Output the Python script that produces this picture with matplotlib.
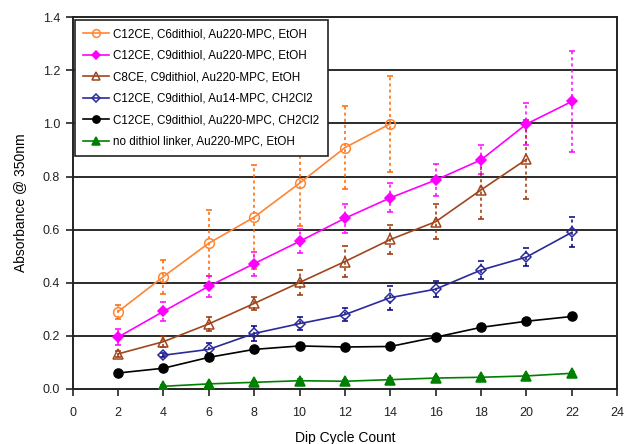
import matplotlib
matplotlib.use("Agg")
import matplotlib.pyplot as plt
from matplotlib.ticker import MultipleLocator, FormatStrFormatter

plt.rcParams['font.family'] = ['Liberation Sans', 'DejaVu Sans']

# dip cycles
X_ALL = [2, 4, 6, 8, 10, 12, 14, 16, 18, 20, 22]

# C12CE, C6dithiol, Au220-MPC, EtOH
c6_x = [2, 4, 6, 8, 10, 12, 14]
c6_y = [0.291, 0.423, 0.549, 0.647, 0.775, 0.909, 0.999]
c6_err = [0.026, 0.064, 0.125, 0.195, 0.16, 0.157, 0.18]

# C12CE, C9dithiol, Au220-MPC, EtOH
c9_x = X_ALL
c9_y = [0.195, 0.292, 0.387, 0.472, 0.556, 0.643, 0.72, 0.787, 0.863, 0.998, 1.083]
c9_err = [0.03, 0.035, 0.04, 0.045, 0.045, 0.055, 0.055, 0.06, 0.055, 0.08, 0.19]

# C8CE, C9dithiol, Au220-MPC, EtOH
c8_x = [2, 4, 6, 8, 10, 12, 14, 16, 18, 20]
c8_y = [0.132, 0.178, 0.245, 0.322, 0.401, 0.48, 0.563, 0.63, 0.75, 0.865]
c8_err = [0.01, 0.02, 0.025, 0.025, 0.047, 0.058, 0.055, 0.065, 0.11, 0.15]

# C12CE, C9dithiol, Au14-MPC, CH2Cl2
au14_x = [4, 6, 8, 10, 12, 14, 16, 18, 20, 22]
au14_y = [0.127, 0.149, 0.209, 0.246, 0.28, 0.344, 0.376, 0.448, 0.497, 0.59]
au14_err = [0.008, 0.025, 0.03, 0.025, 0.025, 0.045, 0.03, 0.035, 0.035, 0.057]

# C12CE, C9dithiol, Au220-MPC, CH2Cl2
ch_x = X_ALL
ch_y = [0.06, 0.078, 0.119, 0.149, 0.162, 0.158, 0.16, 0.195, 0.232, 0.255, 0.273]
ch_err = [0.005, 0.005, 0.006, 0.006, 0.006, 0.006, 0.006, 0.008, 0.008, 0.008, 0.01]

# no dithiol linker, Au220-MPC, EtOH
nd_x = [4, 6, 8, 10, 12, 14, 16, 18, 20, 22]
nd_y = [0.01, 0.019, 0.025, 0.031, 0.029, 0.035, 0.041, 0.044, 0.049, 0.059]
nd_err = [0.005, 0.005, 0.006, 0.006, 0.005, 0.005, 0.005, 0.004, 0.004, 0.004]

series = [
    (c6_x, c6_y, c6_err, "C12CE, C6dithiol, Au220-MPC, EtOH", '#FF8533', '#FF6600', 'o', 'none', 7),
    (c9_x, c9_y, c9_err, "C12CE, C9dithiol, Au220-MPC, EtOH", '#FF00FF', '#FF00FF', 'D', '#FF00FF', 5.5),
    (c8_x, c8_y, c8_err, "C8CE, C9dithiol, Au220-MPC, EtOH", '#A0461E', '#993300', '^', 'none', 7),
    (au14_x, au14_y, au14_err, "C12CE, C9dithiol, Au14-MPC, CH2Cl2", '#2A2A9A', '#000080', 'D', 'none', 5),
    (ch_x, ch_y, ch_err, "C12CE, C9dithiol, Au220-MPC, CH2Cl2", '#000000', '#000000', 'o', '#000000', 6.5),
    (nd_x, nd_y, nd_err, "no dithiol linker, Au220-MPC, EtOH", '#008000', '#008000', '^', '#008000', 6.5),
]

fig = plt.figure(figsize=(6.26, 4.44), dpi=100)
ax = fig.add_axes([0.116, 0.124, 0.870, 0.837])

for y in [0.2, 0.4, 0.6, 0.8, 1.0, 1.2]:
    ax.axhline(y, color='#1a1a1a', lw=1.3, zorder=1)

handles = []
for xs, ys, errs, label, lc, ec, mk, mfc, ms in series:
    line, caps, bars = ax.errorbar(xs, ys, yerr=errs, color=lc, ecolor=ec, elinewidth=1.1,
                                   capsize=2.5, capthick=1.1, marker=mk, markersize=ms,
                                   markerfacecolor=mfc, markeredgecolor=lc, markeredgewidth=1.1,
                                   lw=1.2, zorder=3)
    bars[0].set_linestyle((0, (2, 2)))
    line.set_label(label)
    handles.append(line)

ax.set_xlim(0, 24)
ax.set_ylim(0, 1.4)
ax.xaxis.set_major_locator(MultipleLocator(2))
ax.yaxis.set_major_locator(MultipleLocator(0.2))
ax.yaxis.set_major_formatter(FormatStrFormatter('%.1f'))
ax.tick_params(direction='out', length=5, width=1.2, labelsize=9, colors='#222222', pad=4)
ax.tick_params(axis='x', pad=8)
for s in ax.spines.values():
    s.set_linewidth(1.4)
    s.set_color('#222222')

ax.set_xlabel("Dip Cycle Count", fontsize=10, labelpad=9)
ax.set_ylabel("Absorbance @ 350nm", fontsize=10, labelpad=11)

leg = ax.legend(handles=handles, loc='upper left', bbox_to_anchor=(0.004, 0.993), fontsize=8.4,
                frameon=True, fancybox=False, edgecolor='#222222', framealpha=1, handlelength=2.2,
                handletextpad=0.4, labelspacing=0.82, borderpad=0.7, borderaxespad=0,
                markerscale=0.8)
leg.get_frame().set_linewidth(1.2)
leg.set_zorder(5)

fig.savefig("out.png", dpi=100)
